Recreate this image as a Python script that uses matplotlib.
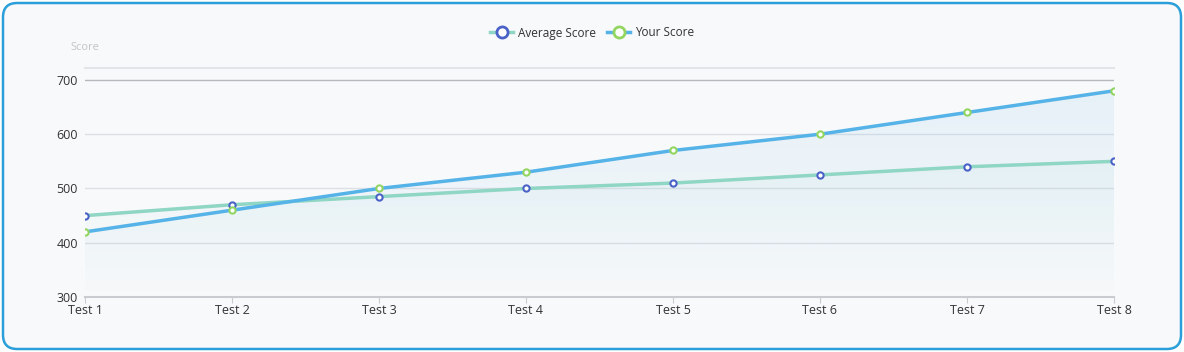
import numpy as np
import matplotlib.pyplot as plt
from matplotlib.patches import FancyBboxPatch, Polygon
from matplotlib.lines import Line2D

plt.rcParams['font.family'] = ['Open Sans', 'DejaVu Sans']

tests = ['Test 1', 'Test 2', 'Test 3', 'Test 4', 'Test 5', 'Test 6', 'Test 7', 'Test 8']
average_score = [450, 470, 485, 500, 510, 525, 540, 550]
your_score = [420, 460, 500, 530, 570, 600, 640, 680]
yticks = [300, 400, 500, 600, 700]

W, H = 1184, 352
fig = plt.figure(figsize=(W / 100, H / 100), dpi=100)
fig.patch.set_facecolor('white')

# rounded card border
card = FancyBboxPatch((3 / W, 3 / H), 1 - 6 / W, 1 - 6 / H,
                      boxstyle="round,pad=0,rounding_size=0.012",
                      transform=fig.transFigure, facecolor='#f8f9fb',
                      edgecolor='#2b9fd9', linewidth=1.8, mutation_aspect=W / H,
                      zorder=-5)
fig.patches.append(card)

ax = fig.add_axes([85 / W, 1 - 297 / H, (1114 - 85) / W, (297 - 68) / H])
ax.set_facecolor('none')
x = np.arange(len(tests))


def gradient_fill(xs, ys, rgb, a_top, a_bot):
    grad = np.zeros((100, 1, 4))
    grad[:, 0, :3] = rgb
    grad[:, 0, 3] = np.linspace(a_top, a_bot, 100)
    im = ax.imshow(grad, aspect='auto', extent=[xs[0], xs[-1], 300, max(ys)],
                   origin='upper', zorder=1)
    verts = [(xs[0], 300)] + list(zip(xs, ys)) + [(xs[-1], 300)]
    poly = Polygon(verts, closed=True, facecolor='none', edgecolor='none')
    ax.add_patch(poly)
    im.set_clip_path(poly)


gradient_fill(x, your_score, (0.55, 0.78, 0.90), 0.17, 0.0)
gradient_fill(x, average_score, (0.60, 0.84, 0.82), 0.10, 0.0)
ax.set_xlim(0, len(tests) - 1)
ax.set_ylim(300, 722)

# grid
for yv in [400, 500, 600]:
    ax.axhline(yv, color='#dcdfe4', lw=1, zorder=0.5)
ax.axhline(700, color='#b5b8bd', lw=1, zorder=0.5)
ax.axhline(722, color='#e3e4e7', lw=1.5, zorder=0.5, clip_on=False)

ax.plot(x, average_score, color='#8fd6c4', lw=2.5, zorder=3,
        marker='o', ms=4.5, mfc='white', mec='#4a62c8', mew=1.5)
ax.plot(x, your_score, color='#56b3e8', lw=2.5, zorder=4,
        marker='o', ms=4.5, mfc='white', mec='#92d560', mew=1.5)

for s in ['top', 'right', 'left']:
    ax.spines[s].set_visible(False)
ax.spines['bottom'].set_color('#c9cbd0')
ax.spines['bottom'].set_linewidth(1.5)
ax.set_xticks(x)
ax.set_xticklabels(tests, fontsize=9, color='#333333')
ax.set_yticks(yticks)
ax.set_yticklabels([str(v) for v in yticks], fontsize=9, color='#333333')
ax.tick_params(axis='y', length=0, pad=5)
ax.tick_params(axis='x', length=4, color='#c9cbd0', pad=1)

fig.text(85 / W, 1 - 48 / H, 'Score', fontsize=8, color='#c4c4c4',
         ha='center', va='center')

handles = [
    Line2D([], [], color='#8fd6c4', lw=2.5, marker='o', ms=8, mfc='white',
           mec='#4a62c8', mew=2),
    Line2D([], [], color='#56b3e8', lw=2.5, marker='o', ms=8, mfc='white',
           mec='#92d560', mew=2),
]
fig.legend(handles, ['Average Score', 'Your Score'], loc='center',
           bbox_to_anchor=(0.5, 1 - 33 / H), ncol=2, frameon=False,
           fontsize=8.5, handlelength=2.0, columnspacing=0.9, handletextpad=0.4,
           labelcolor='#333333')

fig.savefig('out.png', dpi=100, facecolor='white')
